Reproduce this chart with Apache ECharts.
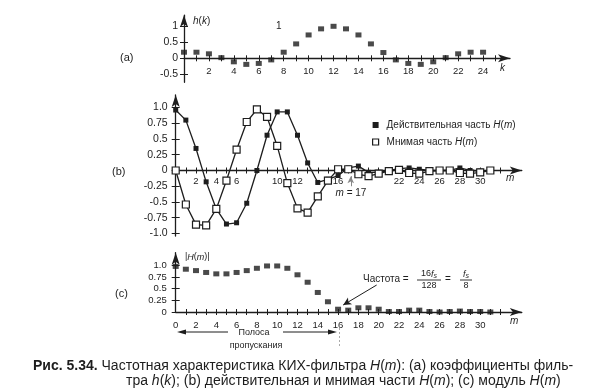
<!DOCTYPE html>
<html>
<head>
<meta charset="utf-8">
<script src="https://cdn.jsdelivr.net/npm/echarts@6/dist/echarts.min.js"></script>
<style>html,body{margin:0;padding:0;background:#fff;}#chart{width:602px;height:392px;}</style>
</head>
<body>
<div id="chart"></div>
<script>
// ---------- data ----------
const kValues = [0,1,2,3,4,5,6,7,8,9,10,11,12,13,14,15,16,17,18,19,20,21,22,23,24];
const hk = [0.19,0.19,0.14,0.02,-0.11,-0.19,-0.16,-0.05,0.19,0.45,0.73,0.92,1.0,0.92,0.73,0.45,0.18,-0.05,-0.16,-0.19,-0.11,0.02,0.14,0.19,0.19];

const mValues = [0,1,2,3,4,5,6,7,8,9,10,11,12,13,14,15,16,17,18,19,20,21,22,23,24,25,26,27,28,29,30,31];
const realH = [0.96,0.8,0.35,-0.18,-0.61,-0.85,-0.83,-0.52,0.0,0.56,0.93,0.93,0.56,0.12,-0.19,-0.14,-0.08,0.04,0.07,-0.03,-0.03,0.0,0.03,0.04,0.02,0.0,0.0,0.0,0.04,0.0,-0.01,0.0];
const imagH = [0.0,-0.54,-0.86,-0.87,-0.61,-0.16,0.33,0.77,0.97,0.85,0.39,-0.2,-0.6,-0.67,-0.41,-0.16,0.02,0.02,-0.06,-0.09,-0.05,-0.01,0.01,-0.04,-0.05,-0.01,0.0,0.0,-0.04,-0.05,-0.03,0.0];
const magH = [0.98,0.92,0.89,0.85,0.82,0.82,0.85,0.89,0.94,0.99,0.99,0.94,0.8,0.64,0.42,0.22,0.06,0.04,0.09,0.09,0.06,0.01,0.01,0.04,0.04,0.01,0.0,0.01,0.02,0.01,0.01,0.0];

const kTickLabels = [2,4,6,8,10,12,14,16,18,20,22,24];
const kTicks = [1,2,3,4,5,6,7,8,9,10,11,12,13,14,15,16,17,18,19,20,21,22,23,24,25];
const mTickLabelsB = [2,4,6,10,12,16,22,24,26,28,30];
const mTickLabelsC = [0,2,4,6,8,10,12,14,16,18,20,22,24,26,28,30];
const mTicks = [1,2,3,4,5,6,7,8,9,10,11,12,13,14,15,16,17,18,19,20,21,22,23,24,25,26,27,28,29,30,31,32];
const hTicks = [-0.5,0,0.5,1];
const bTicks = [-1,-0.75,-0.5,-0.25,0,0.25,0.5,0.75,1];
const cTicks = [0,0.25,0.5,0.75,1];

const realName = 'Действительная часть H(m)';
const imagName = 'Мнимая часть H(m)';

// ---------- styling ----------
const INK = '#1d1d1d';
const FONT = '"Liberation Sans", Arial, sans-serif';

function xPair(grid, max, offset, tickVals, labelVals, margin, fontSize) {
  const base = {type:'value', gridIndex:grid, min:0, max:max, position:'bottom', offset:offset, splitLine:{show:false}};
  return [
    Object.assign({}, base, {
      axisLine:{show:true, onZero:false, lineStyle:{color:INK, width:1.3}, symbol:['none','arrow'], symbolSize:[6,12]},
      axisTick:{show:true, inside:false, length:3, customValues:tickVals, lineStyle:{color:INK, width:1}},
      axisLabel:{show:true, customValues:labelVals, margin:margin, color:INK, fontSize:fontSize, fontFamily:FONT, formatter:v => String(v)}
    }),
    Object.assign({}, base, {
      axisLine:{show:false, onZero:false},
      axisTick:{show:true, inside:true, length:3, customValues:tickVals, lineStyle:{color:INK, width:1}},
      axisLabel:{show:false}
    })
  ];
}
function yPair(grid, min, max, tickVals, labelVals, margin, fontSize, fmt) {
  const base = {type:'value', gridIndex:grid, min:min, max:max, position:'left', splitLine:{show:false}};
  return [
    Object.assign({}, base, {
      axisLine:{show:true, onZero:false, lineStyle:{color:INK, width:1.3}, symbol:['none','arrow'], symbolSize:[6,12]},
      axisTick:{show:true, inside:false, length:4, customValues:tickVals, lineStyle:{color:INK, width:1}},
      axisLabel:{show:true, customValues:labelVals, margin:margin, color:INK, fontSize:fontSize, fontFamily:FONT, formatter:fmt}
    }),
    Object.assign({}, base, {
      axisLine:{show:false, onZero:false},
      axisTick:{show:true, inside:true, length:4, customValues:tickVals, lineStyle:{color:INK, width:1}},
      axisLabel:{show:false}
    })
  ];
}
const fmtA = v => (v === 0 ? '0' : String(v));
const fmtB = v => (v === 0 ? '0' : (Math.abs(v) === 1 ? v.toFixed(1) : String(v)));

// grid geometry: zero line of (a) is 24px above its bottom, of (b) 65.5px above
const xAxes = [].concat(
  xPair(0, 26.16, -24, kTicks, kTickLabels, 8, 9.5),
  xPair(1, 34.1, -65.5, mTicks, mTickLabelsB, 6, 9.5),
  xPair(2, 34.1, 0, mTicks, mTickLabelsC, 8, 9.5)
);
const yAxes = [].concat(
  yPair(0, -0.75, 1.35, hTicks, hTicks, 6, 10.5, fmtA),
  yPair(1, -1.04, 1.2, bTicks, bTicks, 8, 10.5, fmtB),
  yPair(2, 0, 1.275, cTicks, cTicks, 9, 9.5, fmtB)
);

const pairs = (xs, ys) => xs.map((x, i) => [x, ys[i]]);

function txt(x, y, text, opt) {
  opt = opt || {};
  return {
    type:'text', x:x, y:y, silent:true, z:50,
    style:Object.assign({
      text:text, fill:INK, fontFamily:FONT, fontSize:10,
      align:'left', verticalAlign:'middle',
      rich:{ i:{fontStyle:'italic', fontFamily:FONT, fontSize:opt.fontSize||10, fill:INK},
             b:{fontWeight:'bold', fontFamily:FONT, fontSize:opt.fontSize||10, fill:INK},
             s:{fontStyle:'italic', fontFamily:FONT, fontSize:7, fill:INK, padding:[5,0,0,0]} }
    }, opt)
  };
}
const ital = s => s.replace('H(m)', '{i|H}({i|m})');

const graphics = [
  txt(120, 58, '(a)', {fontSize:11}),
  txt(112, 172, '(b)', {fontSize:11}),
  txt(115, 294, '(c)', {fontSize:11}),
  txt(193, 21, '{i|h}({i|k})', {fontSize:10}),
  txt(276, 26, '1', {fontSize:10}),
  txt(500, 68, '{i|k}', {fontSize:10}),
  txt(506, 178, '{i|m}', {fontSize:10}),
  txt(510, 321, '{i|m}', {fontSize:10}),
  txt(185, 257, '|{i|H}({i|m})|', {fontSize:9}),
  txt(351, 193, '{i|m} = 17', {fontSize:10, align:'center'}),
  // frequency annotation
  txt(363, 279, 'Частота =', {fontSize:10}),
  txt(429, 274, '16{i|f}{s|s}', {fontSize:9, align:'center'}),
  {type:'line', silent:true, shape:{x1:417, y1:280, x2:441, y2:280}, style:{stroke:INK, lineWidth:0.9}},
  txt(429, 285.5, '128', {fontSize:9, align:'center'}),
  txt(448, 279, '=', {fontSize:10, align:'center'}),
  txt(466, 274, '{i|f}{s|s}', {fontSize:9, align:'center'}),
  {type:'line', silent:true, shape:{x1:460, y1:280, x2:472, y2:280}, style:{stroke:INK, lineWidth:0.9}},
  txt(466, 285.5, '8', {fontSize:9, align:'center'}),
  // pass band annotation
  txt(254, 332.5, 'Полоса', {fontSize:9, align:'center'}),
  txt(256, 346, 'пропускания', {fontSize:9, align:'center'}),
  {type:'line', silent:true, shape:{x1:183, y1:332, x2:228, y2:332}, style:{stroke:INK, lineWidth:1}},
  {type:'polygon', silent:true, shape:{points:[[177,332],[186,329.5],[186,334.5]]}, style:{fill:INK}},
  {type:'line', silent:true, shape:{x1:283, y1:332, x2:330, y2:332}, style:{stroke:INK, lineWidth:1}},
  {type:'polygon', silent:true, shape:{points:[[337,332],[328,329.5],[328,334.5]]}, style:{fill:INK}},
  {type:'line', silent:true, shape:{x1:339.5, y1:328, x2:339.5, y2:347}, style:{stroke:'#aaa', lineWidth:1, lineDash:[2,2]}},
  // caption
  txt(33, 366, '{b|Рис. 5.34.} Частотная характеристика КИХ-фильтра {i|H}({i|m}): (a) коэффициенты филь-', {fontSize:14}),
  txt(126, 381, 'тра {i|h}({i|k}); (b) действительная и мнимая части {i|H}({i|m}); (c) модуль {i|H}({i|m})', {fontSize:14})
];

const chart = echarts.init(document.getElementById('chart'), null, {renderer:'canvas'});
chart.setOption({
  animation:false,
  backgroundColor:'#ffffff',
  textStyle:{fontFamily:FONT, color:INK},
  grid:[
    {left:184, top:15.1, width:326, height:67.2, outerBoundsMode:'none', containLabel:false},
    {left:175.7, top:94.9, width:346.1, height:141.1, outerBoundsMode:'none', containLabel:false},
    {left:175.7, top:252.7, width:346.1, height:59.3, outerBoundsMode:'none', containLabel:false}
  ],
  xAxis:xAxes,
  yAxis:yAxes,
  legend:{
    orient:'vertical', left:367, top:115, itemWidth:6, itemHeight:6, itemGap:7,
    textStyle:{fontSize:10, color:INK, fontFamily:FONT, padding:[0,0,0,3],
      rich:{i:{fontStyle:'italic', fontSize:10, color:INK, fontFamily:FONT}}},
    formatter:name => ital(name),
    data:[
      {name:realName, icon:'rect', itemStyle:{color:INK, borderWidth:0}},
      {name:imagName, icon:'rect', itemStyle:{color:'#fff', borderColor:INK, borderWidth:1.2}}
    ]
  },
  series:[
    {
      name:'h(k)', type:'scatter', xAxisIndex:0, yAxisIndex:0,
      symbol:'rect', symbolSize:[6,5], itemStyle:{color:INK}, clip:false,
      data:pairs(kValues, hk)
    },
    {
      name:realName, type:'line', xAxisIndex:2, yAxisIndex:2,
      symbol:'rect', symbolSize:5, showAllSymbol:true, clip:false, z:3,
      itemStyle:{color:INK}, lineStyle:{color:INK, width:1.3},
      data:pairs(mValues, realH),
      markLine:{silent:true, symbol:['none','arrow'], symbolSize:[5,7],
        lineStyle:{color:'#888', width:1, type:'solid'}, label:{show:false},
        data:[[{coord:[17.25,-0.25]},{coord:[17.25,-0.09]}]]}
    },
    {
      name:imagName, type:'line', xAxisIndex:2, yAxisIndex:2,
      symbol:'rect', symbolSize:7, showAllSymbol:true, clip:false, z:4,
      itemStyle:{color:'#fff', borderColor:INK, borderWidth:1.2}, lineStyle:{color:INK, width:1.3},
      data:pairs(mValues, imagH)
    },
    {
      name:'|H(m)|', type:'scatter', xAxisIndex:4, yAxisIndex:4,
      symbol:'rect', symbolSize:[6,5], itemStyle:{color:INK}, clip:false,
      data:pairs(mValues, magH),
      markLine:{silent:true, symbol:['none','arrow'], symbolSize:[6,8],
        lineStyle:{color:INK, width:1, type:'solid'}, label:{show:false},
        data:[[{coord:[19.8,0.58]},{coord:[16.5,0.15]}]]}
    }
  ],
  graphic:graphics
});
</script>
</body>
</html>
